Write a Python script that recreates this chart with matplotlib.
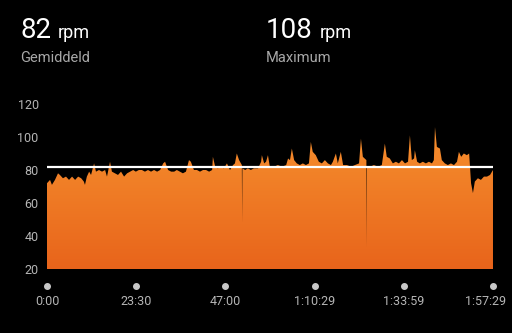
import matplotlib
matplotlib.use("Agg")
from matplotlib import pyplot as plt
from matplotlib.patches import Polygon
import matplotlib.transforms as mtransforms
import numpy as np

plt.rcParams['font.family'] = ['Roboto', 'DejaVu Sans']

# cadence samples: time in minutes, rpm
minutes = [0.0, 0.8, 1.3, 2.1, 2.9, 3.4, 4.2, 5.0, 5.8, 6.6, 7.4, 8.2, 9.0, 9.7, 10.0,
           10.5, 11.1, 11.6, 12.4, 12.9, 13.7, 14.5, 15.3, 15.8, 16.6, 17.1, 17.9, 18.7,
           19.5, 20.3, 21.1, 21.9, 22.7, 23.4, 24.2, 25.0, 25.8, 26.6, 27.4, 28.2, 29.0,
           29.8, 30.6, 31.1, 31.9, 32.7, 33.5, 34.2, 35.0, 35.8, 36.6, 37.4, 37.9, 38.7,
           39.5, 40.3, 41.1, 41.9, 42.7, 43.5, 43.7, 44.3, 45.0, 45.8, 46.6, 47.4, 48.2,
           49.0, 49.5, 50.0, 50.6, 51.33, 51.4, 51.47, 52.2, 52.9, 53.7, 54.5, 55.6, 56.4,
           56.6, 57.2, 57.7, 58.2, 58.7, 59.8, 60.8, 61.9, 63.0, 63.5, 64.0, 64.5, 65.1,
           65.8, 66.6, 67.4, 68.2, 69.0, 69.5, 70.0, 70.8, 71.6, 72.4, 73.2, 74.0, 74.8,
           75.3, 76.1, 76.6, 77.4, 78.0, 79.0, 80.1, 81.1, 82.2, 82.7, 83.2, 84.13, 84.2,
           84.27, 85.1, 86.1, 87.2, 88.2, 89.0, 89.5, 90.3, 91.1, 91.9, 92.7, 93.5, 94.3,
           95.1, 95.6, 96.1, 96.7, 96.9, 97.5, 98.2, 99.0, 99.8, 100.6, 101.4, 101.9,
           102.2, 102.7, 103.5, 104.0, 104.8, 105.6, 106.4, 107.2, 108.0, 108.5, 109.1,
           109.8, 110.6, 111.2, 111.7, 112.2, 112.7, 113.5, 114.3, 115.1, 115.9, 116.7,
           117.48]
rpm = [72, 74, 71, 74, 78, 77, 75, 76, 74, 76, 74, 76, 75, 73, 71,
       76, 79, 77, 84, 79, 80, 79, 80, 76, 85, 79, 78, 77,
       79, 76, 78, 79, 80, 79, 80, 80, 79, 80, 79, 80, 79,
       80, 84, 85, 80, 79, 79, 80, 79, 78, 79, 86, 85, 80,
       80, 79, 80, 80, 79, 80, 88, 82, 81, 82, 81, 84, 80,
       83, 84, 90, 86, 83, 48, 81, 80, 81, 80, 81, 81, 85,
       89, 84, 85, 89, 82, 82, 83, 82, 83, 87, 86, 93, 86,
       84, 83, 84, 83, 84, 97, 91, 89, 85, 84, 86, 84, 83,
       85, 90, 84, 91, 83, 83, 82, 83, 84, 99, 88, 86, 33,
       82, 82, 83, 82, 83, 96, 88, 87, 84, 85, 84, 86, 84,
       85, 101, 86, 87, 92, 85, 84, 85, 84, 85, 84, 86,
       106, 94, 93, 86, 84, 83, 84, 83, 85, 91, 88,
       90, 89, 90, 72, 66, 73, 75, 74, 76, 76, 77,
       80]
average = 82
maximum = 108
tick_min = [0, 23.5, 47.0, 70.483, 93.983, 117.483]
tick_labels = ["0:00", "23:30", "47:00", "1:10:29", "1:33:59", "1:57:29"]

fig = plt.figure(figsize=(5.12, 3.33), dpi=100, facecolor="black")
ax = fig.add_axes([47 / 512, 1 - 269 / 333, 446 / 512, 165 / 333], facecolor="black")

x = np.array(minutes)
y = np.array(rpm)
ax.set_xlim(0, 117.48)
ax.set_ylim(20, 120)

# orange area with vertical gradient
verts = np.vstack([[x[0], 20], np.column_stack([x, y]), [x[-1], 20]])
poly = Polygon(verts, closed=True, facecolor="none", edgecolor="none")
ax.add_patch(poly)
grad = np.linspace(0, 1, 256).reshape(-1, 1)
cmap = matplotlib.colors.LinearSegmentedColormap.from_list("o", ["#e8641b", "#f7922f"])
im = ax.imshow(grad, extent=[0, 117.48, 20, 110], origin="lower", aspect="auto",
               cmap=cmap, zorder=1)
im.set_clip_path(poly)

ax.axhline(average, color="white", lw=1.6, zorder=3)

for s in ax.spines.values():
    s.set_visible(False)
ax.set_yticks([20, 40, 60, 80, 100, 120])
ax.tick_params(axis="y", length=0, pad=6, labelcolor="#b5b5b5", labelsize=9)
ax.set_xticks(tick_min)
ax.set_xticklabels(tick_labels)
ax.tick_params(axis="x", length=0, pad=19, labelcolor="#b5b5b5", labelsize=9)
# last label sits a bit to the left so it stays inside the picture
last = ax.get_xticklabels()[-1]
last.set_transform(last.get_transform() +
                   mtransforms.ScaledTranslation(-7 / 100, 0, fig.dpi_scale_trans))

# dots above the time labels
ax.plot(tick_min, [-0.103] * len(tick_min), "o", color="#c8c8c8", ms=4,
        transform=ax.get_xaxis_transform(), clip_on=False)

# header
fig.text(20 / 512, 1 - 38 / 333, str(average), color="white", fontsize=20, va="baseline")
fig.text(58 / 512, 1 - 38 / 333, "rpm", color="white", fontsize=13, va="baseline")
fig.text(20 / 512, 1 - 62 / 333, "Gemiddeld", color="#a8a8a8", fontsize=10.5, va="baseline")
fig.text(266 / 512, 1 - 38 / 333, str(maximum), color="white", fontsize=20, va="baseline")
fig.text(320 / 512, 1 - 38 / 333, "rpm", color="white", fontsize=13, va="baseline")
fig.text(266 / 512, 1 - 62 / 333, "Maximum", color="#a8a8a8", fontsize=10.5, va="baseline")

fig.savefig("out.png", dpi=100, facecolor="black")
